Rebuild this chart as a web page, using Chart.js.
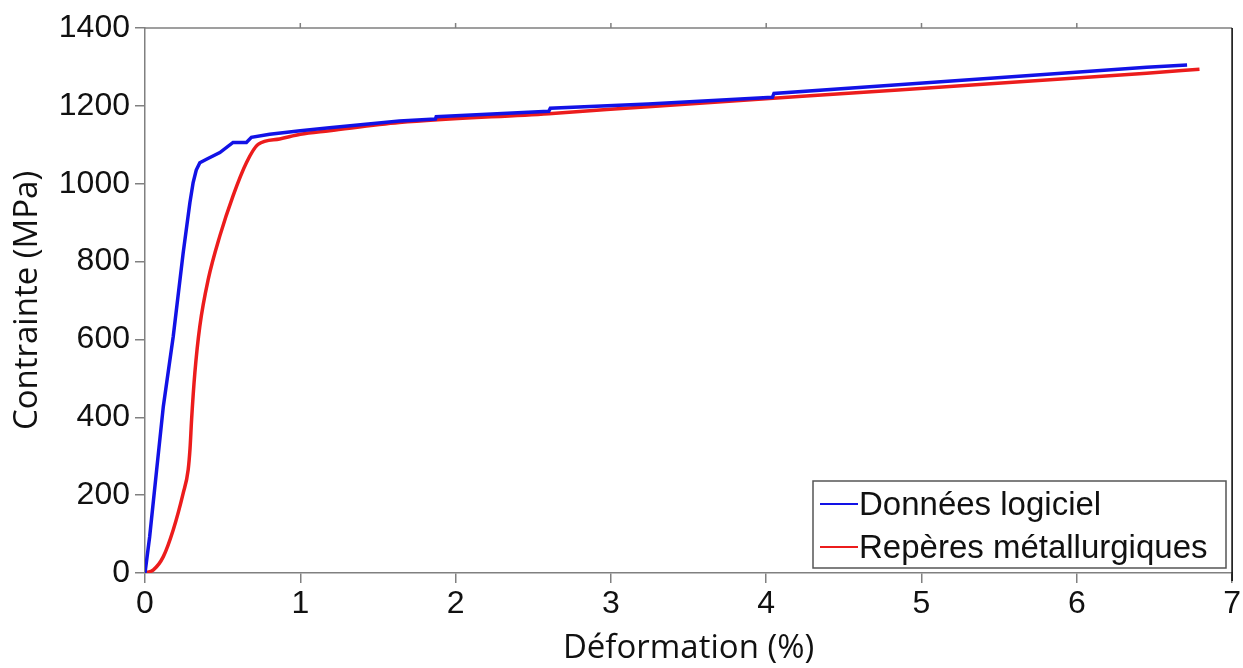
<!DOCTYPE html>
<html>
<head>
<meta charset="utf-8">
<script src="https://cdn.jsdelivr.net/npm/chart.js@4"></script>
<style>
  html, body { margin: 0; padding: 0; background: #fff; }
  #wrap { width: 1243px; height: 668px; position: relative; }
</style>
</head>
<body>
<div id="wrap"><canvas id="stress-chart"></canvas></div>
<script>
// Courbe contrainte / déformation
const xTicks = [0, 1, 2, 3, 4, 5, 6, 7];
const yTicks = [0, 200, 400, 600, 800, 1000, 1200, 1400];

const blueStrain = [0, 0.03, 0.075, 0.118, 0.182, 0.246, 0.289, 0.31, 0.33, 0.353, 0.396, 0.482, 0.567, 0.653, 0.685, 0.803, 1.0, 1.188, 1.638, 1.87, 1.875, 2.6, 2.61, 3.24, 4.04, 4.05, 4.85, 6.45, 6.71];
const blueStress = [0, 93, 265, 428, 608, 823, 951, 1003, 1035, 1054, 1063, 1080, 1106, 1106, 1119, 1127, 1136, 1144, 1161, 1166, 1172, 1186, 1194, 1205, 1222, 1232, 1254, 1299, 1305];

const redStrain = [0, 0.054, 0.118, 0.182, 0.246, 0.278, 0.29, 0.3, 0.321, 0.353, 0.407, 0.482, 0.567, 0.653, 0.728, 0.867, 1.0, 1.188, 1.638, 2.6, 3.24, 4.85, 6.45, 6.79];
const redStress = [0, 8, 42, 111, 205, 265, 320, 394, 514, 634, 754, 866, 969, 1054, 1101, 1115, 1127, 1136, 1157, 1180, 1198, 1241, 1284, 1294];

const seriesLabels = ["Données logiciel", "Repères métallurgiques"];

const toPoints = (xs, ys) => xs.map((x, i) => ({ x: x, y: ys[i] }));

// cadre haut/droite + légende dans la zone de tracé
const framePlugin = {
  id: "frame",
  afterDraw(chart) {
    const { ctx, chartArea, scales } = chart;
    ctx.save();
    ctx.lineWidth = 1.5;
    ctx.strokeStyle = "#808080";
    ctx.beginPath();
    ctx.moveTo(chartArea.left, chartArea.top);
    ctx.lineTo(chartArea.right, chartArea.top);
    for (const t of xTicks.slice(1, -1)) {
      const px = scales.x.getPixelForValue(t);
      ctx.moveTo(px, chartArea.top);
      ctx.lineTo(px, chartArea.top - 5);
    }
    ctx.stroke();
    ctx.strokeStyle = "#000";
    ctx.beginPath();
    ctx.moveTo(chartArea.right, chartArea.top);
    ctx.lineTo(chartArea.right, chartArea.bottom + 8);
    ctx.stroke();

    // légende
    const bx = 813, by = 481, bw = 413, bh = 87;
    ctx.fillStyle = "#fff";
    ctx.fillRect(bx, by, bw, bh);
    ctx.strokeStyle = "#555";
    ctx.lineWidth = 1.5;
    ctx.strokeRect(bx, by, bw, bh);
    ctx.font = "33px 'Liberation Sans', Arial, sans-serif";
    ctx.textBaseline = "middle";
    chart.data.datasets.forEach((ds, i) => {
      const cy = by + 23 + i * 43;
      ctx.strokeStyle = ds.borderColor;
      ctx.lineWidth = 2;
      ctx.beginPath();
      ctx.moveTo(bx + 7, cy);
      ctx.lineTo(bx + 45, cy);
      ctx.stroke();
      ctx.fillStyle = "#111";
      ctx.fillText(ds.label, bx + 46, cy + 2);
    });
    ctx.restore();
  },
};

const ctx = document.getElementById("stress-chart").getContext("2d");
const stressChart = new Chart(ctx, {
  type: "line",
  data: {
    datasets: [
      {
        label: seriesLabels[0],
        data: toPoints(blueStrain, blueStress),
        borderColor: "#1212e6",
        borderWidth: 3.5,
        pointRadius: 0,
        tension: 0,
      },
      {
        label: seriesLabels[1],
        data: toPoints(redStrain, redStress),
        borderColor: "#ec1c1c",
        borderWidth: 3.5,
        pointRadius: 0,
        cubicInterpolationMode: "monotone",
      },
    ],
  },
  options: {
    responsive: true,
    maintainAspectRatio: false,
    animation: false,
    layout: {
      padding: { top: 28, right: 10, left: 0, bottom: 0 },
    },
    scales: {
      x: {
        type: "linear",
        min: 0,
        max: 7,
        afterBuildTicks: (axis) => {
          axis.ticks = xTicks.map((v) => ({ value: v }));
        },
        afterFit: (axis) => {
          axis.height = 95;
        },
        grid: {
          display: true,
          drawOnChartArea: false,
          drawTicks: true,
          tickLength: 10,
          color: "#808080",
          lineWidth: 1.5,
        },
        border: { color: "#808080", width: 1.5 },
        ticks: {
          color: "#111",
          padding: 2,
          maxRotation: 0,
          callback: (v) => String(v),
          font: { family: "'Liberation Sans', Arial, sans-serif", size: 32 },
        },
        title: {
          display: true,
          text: "Déformation (%)",
          color: "#111",
          padding: { top: 0, bottom: 0 },
          font: { family: "'Open Sans', sans-serif", size: 33 },
        },
      },
      y: {
        type: "linear",
        min: 0,
        max: 1400,
        afterBuildTicks: (axis) => {
          axis.ticks = yTicks.map((v) => ({ value: v }));
        },
        afterFit: (axis) => {
          axis.width = 145;
        },
        grid: {
          display: true,
          drawOnChartArea: false,
          drawTicks: true,
          tickLength: 10,
          color: "#808080",
          lineWidth: 1.5,
        },
        border: { color: "#808080", width: 1.5 },
        ticks: {
          color: "#111",
          padding: 5,
          callback: (v) => String(v),
          font: { family: "'Liberation Sans', Arial, sans-serif", size: 32 },
        },
        title: {
          display: true,
          text: "Contrainte (MPa)",
          color: "#111",
          padding: { top: 8, bottom: 0 },
          font: { family: "'Open Sans', sans-serif", size: 33 },
        },
      },
    },
    plugins: {
      legend: { display: false },
      tooltip: { enabled: false },
    },
  },
  plugins: [framePlugin],
});
</script>
</body>
</html>
